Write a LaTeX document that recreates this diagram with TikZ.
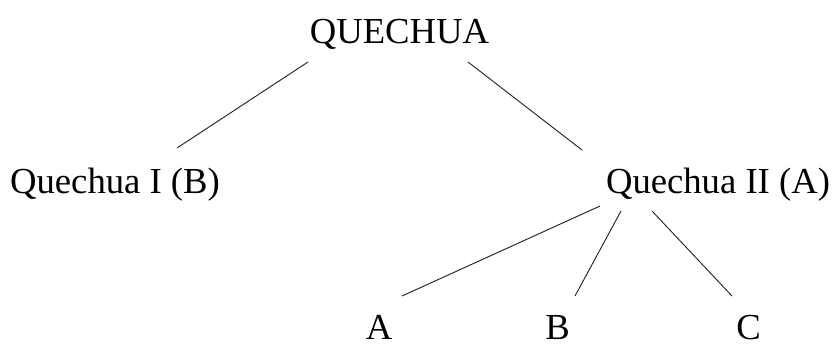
\documentclass[tikz,border=0pt]{standalone}
\usepackage{fontspec}
\setmainfont{Liberation Serif}
\begin{document}
\begin{tikzpicture}[x=0.75pt,y=-0.75pt,
  lbl/.style={anchor=base,inner sep=0pt,font=\fontsize{27.5}{33}\selectfont},
  leaf/.style={lbl,text depth=0pt},
  edge/.style={line width=0.7pt,black!85}]
\useasboundingbox (0,0) rectangle (834,347);
\node[lbl] (top) at (399.5,43) {QUECHUA};
\node[lbl] (q1) at (115,193) {Quechua I (B)};
\node[lbl] (q2) at (718,193) {Quechua II (A)};
\node[leaf] (a) at (379,339) {A};
\node[leaf] (b) at (557.5,339) {B};
\node[leaf] (c) at (748.5,339) {C};
\draw[edge] ([shift={(-91.5,19)}]top.base) -- ([shift={(62,-45)}]q1.base);
\draw[edge] ([shift={(68.5,19)}]top.base) -- ([shift={(-136,-43)}]q2.base);
\draw[edge] ([shift={(-118,13)}]q2.base) -- ([shift={(23,-43)}]a.base);
\draw[edge] ([shift={(-97,18)}]q2.base) -- ([shift={(17.5,-43)}]b.base);
\draw[edge] ([shift={(-66,18)}]q2.base) -- ([shift={(-16.5,-43)}]c.base);
\end{tikzpicture}
\end{document}
